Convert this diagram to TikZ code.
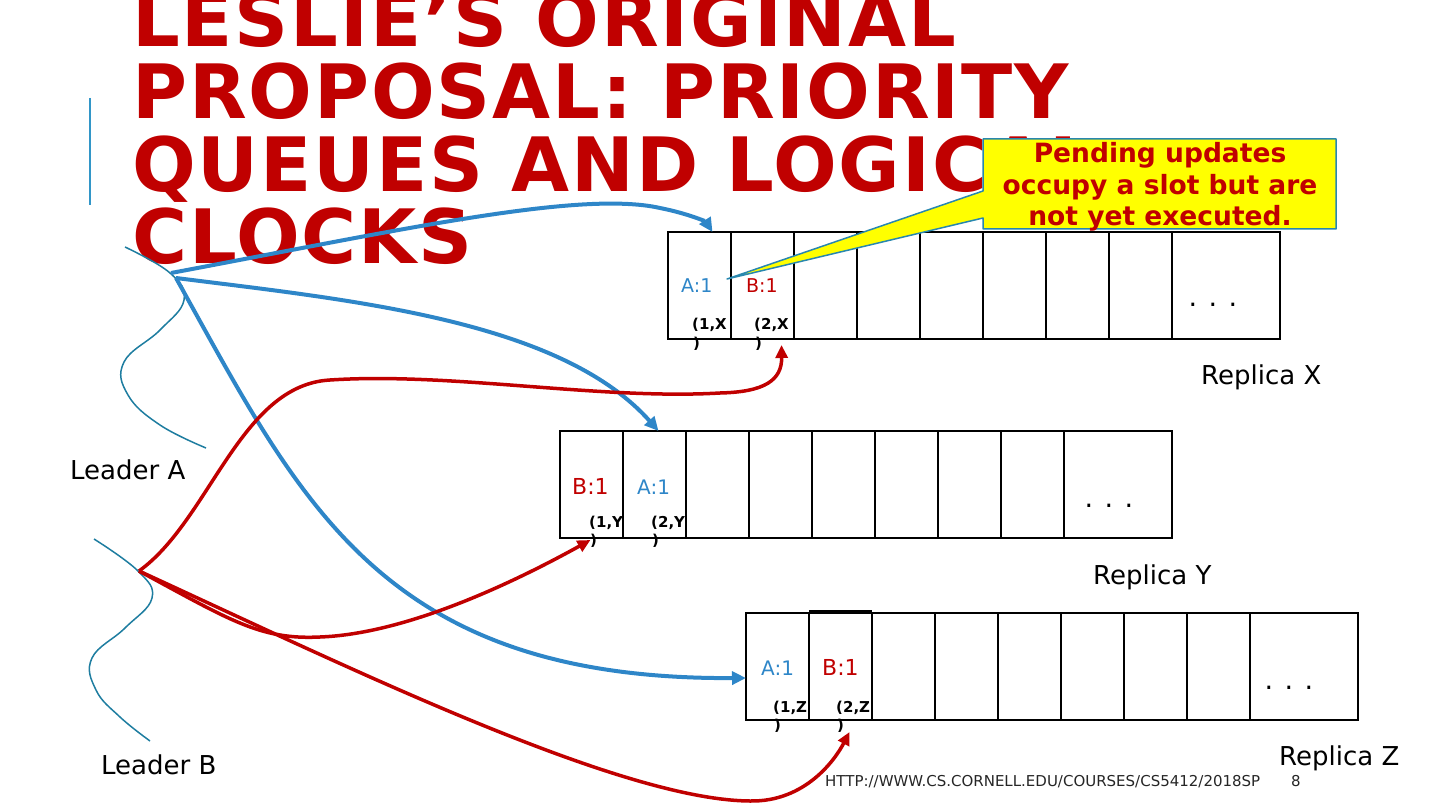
\documentclass[tikz,border=0pt]{standalone}
\usepackage{fontspec}
\setmainfont{DejaVu Sans}
\newfontfamily\titlefont{DejaVu Sans}[LetterSpace=2.5]
\usetikzlibrary{arrows.meta}
\definecolor{tred}{RGB}{192,0,0}
\definecolor{ablue}{RGB}{46,134,200}
\definecolor{wavec}{RGB}{30,125,160}
\definecolor{vline}{RGB}{50,150,200}
\definecolor{cborder}{RGB}{40,135,175}
\definecolor{cyel}{RGB}{255,255,0}
\tikzset{
  cellbox/.style={draw, line width=2pt, inner sep=0pt, outer sep=0pt, anchor=north west, minimum width=63pt, minimum height=107pt},
  widecell/.style={cellbox, minimum width=108pt},
  titleline/.style={anchor=base west, inner sep=0pt, text=tred, font=\titlefont\fontsize{75}{72}\selectfont\bfseries},
  bluearrow/.style={draw=ablue, line width=4pt, -{Triangle[length=14pt,width=13pt]}},
  redarrow/.style={draw=tred, line width=3.5pt, -{Triangle[length=13pt,width=12pt]}},
  entA/.style={anchor=base west, inner sep=0pt, text=ablue},
  entB/.style={anchor=base west, inner sep=0pt, text=tred},
  ts/.style={anchor=base west, inner sep=0pt, font=\fontsize{15}{17}\selectfont\bfseries},
  dots/.style={anchor=base, inner sep=0pt, font=\fontsize{27}{30}\selectfont},
  lbl/.style={anchor=base west, inner sep=0pt, font=\fontsize{26}{30}\selectfont},
  wave/.style={draw=wavec, line width=1.5pt},
}
\newcommand\mkqueue[3]{%
  \foreach \i in {0,...,7} {\node[cellbox] (#1\i) at ({#2+63*\i},#3) {};}
  \node[widecell] (#18) at ({#2+504},#3) {};
}
\begin{document}
\begin{tikzpicture}[x=1pt,y=-1pt]
\useasboundingbox (0,0) rectangle (1440,810);
% title
\node[titleline] (t1) at (132,47) {LESLIE’S ORIGINAL};
\node[titleline] (t2) at (132,119) {PROPOSAL: PRIORITY};
\node[titleline] (t3) at (132,192) {QUEUES AND LOGICAL};
\node[titleline] (t4) at (132,264) {CLOCKS};
\draw[vline, line width=1.5pt] (90,98) -- (90,205);
% leader waves
\draw[wave] plot[smooth, tension=0.7] coordinates {(125,247) (170,273) (184,300) (160,330) (124,362) (128,395) (160,425) (206,448)};
\draw[wave] plot[smooth, tension=0.7] coordinates {(94,539) (138,571) (152,598) (125,628) (92,658) (96,690) (120,717) (150,741)};
\coordinate (la) at (171,273);
\coordinate (la2) at (176,278);
\coordinate (lb) at (139,571);
% queues
\mkqueue{x}{668}{232}
\mkqueue{y}{560}{431}
\mkqueue{z}{746}{613}
\draw[line width=2pt] (809,611) -- (872,611);
% entries X
\node[entA, font=\fontsize{19}{22}\selectfont] (xa) at (681,293) {A:1};
\node[entB, font=\fontsize{19}{22}\selectfont] (xb) at (746,293) {B:1};
\node[ts] (xt1) at (692,330) {(1,X};
\node[ts] (xt1b) at (693,348) {)};
\node[ts] (xt2) at (754,330) {(2,X};
\node[ts] (xt2b) at (755,348) {)};
\node[dots] (xd) at (1213,307) {. . .};
% entries Y
\node[entB, font=\fontsize{22}{26}\selectfont] (yb) at (572,494) {B:1};
\node[entA, font=\fontsize{20}{24}\selectfont] (ya) at (637,494) {A:1};
\node[ts] (yt1) at (589,527) {(1,Y};
\node[ts] (yt1b) at (590,545) {)};
\node[ts] (yt2) at (651,527) {(2,Y};
\node[ts] (yt2b) at (652,545) {)};
\node[dots] (yd) at (1109,507) {. . .};
% entries Z
\node[entA, font=\fontsize{20}{24}\selectfont] (za) at (761,675) {A:1};
\node[entB, font=\fontsize{22}{26}\selectfont] (zb) at (822,675) {B:1};
\node[ts] (zt1) at (773,712) {(1,Z};
\node[ts] (zt1b) at (774,730) {)};
\node[ts] (zt2) at (836,712) {(2,Z};
\node[ts] (zt2b) at (837,730) {)};
\node[dots] (zd) at (1289,689) {. . .};
% callout
\coordinate (ptip) at (727,279);
\filldraw[fill=cyel, draw=cborder, line width=1.5pt, line join=round]
  (983,139) -- (1336,139) -- (1336,229) -- (983,229) -- (983,218) -- (ptip) -- (983,191) -- cycle;
\node[align=center, text=tred, font=\fontsize{26.5}{31.5}\selectfont\bfseries, inner sep=0pt, anchor=base] (callout) at (1160,226)
  {Pending updates\\occupy a slot but are\\not yet executed.};
% blue arrows
\draw[bluearrow] (la) .. controls (400,230) and (580,190) .. (660,208) .. controls (690,214) and (706,222) .. ([xshift=13pt]x0.north);
\draw[bluearrow] (la2) .. controls (350,300) and (560,320) .. ([xshift=4pt]y1.north);
\draw[bluearrow] (la2) .. controls (300,500) and (380,680) .. ([yshift=-65pt]z0.north west);
% red arrows
\draw[redarrow] (lb) .. controls (210,520) and (240,385) .. (330,380) .. controls (450,372) and (600,400) .. (720,393) .. controls (765,392) and (782,380) .. ([xshift=19pt,yshift=-6pt]x1.south);
\draw[redarrow] (lb) .. controls (230,620) and (260,640) .. (320,637) .. controls (400,634) and (500,590) .. ([xshift=-1pt,yshift=-2pt]y0.south);
\draw[redarrow] (lb) .. controls (350,668) and (620,800) .. (750,801) .. controls (805,802) and (835,760) .. ([xshift=9pt,yshift=-12pt]z1.south);
% labels
\node[lbl] (rx) at (1201,384) {Replica X};
\node[lbl] (ry) at (1093,584) {Replica Y};
\node[lbl] (rz) at (1279,765) {Replica Z};
\node[lbl] (lA) at (70,479) {Leader A};
\node[lbl] (lB) at (101,774) {Leader B};
% footer
\node[anchor=base west, inner sep=0pt, font=\fontsize{15}{18}\selectfont, text=black!85] (foot) at (825,786) {HTTP://WWW.CS.CORNELL.EDU/COURSES/CS5412/2018SP};
\node[anchor=base west, inner sep=0pt, font=\fontsize{15}{18}\selectfont, text=black!85] (pg) at (1291,786) {8};
\end{tikzpicture}
\end{document}
